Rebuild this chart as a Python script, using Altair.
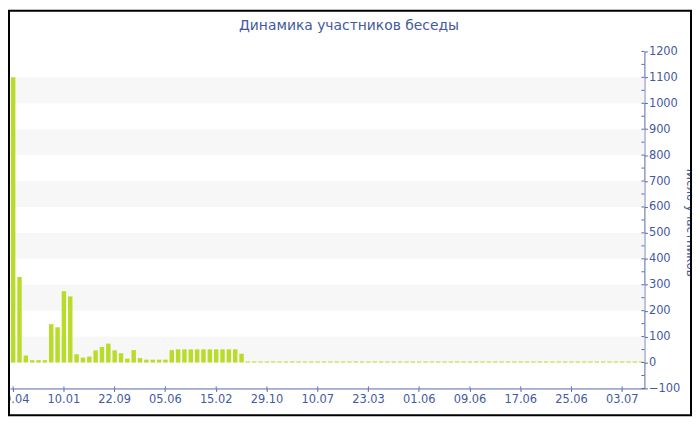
import altair as alt
import pandas as pd

chart_title = "Динамика участников беседы"
y_title = "Число участников"

values = [
    1100, 330, 27, 9, 9, 9, 148, 136, 275, 255,
    32, 19, 23, 47, 60, 73, 47, 36, 15, 48,
    17, 11, 11, 11, 11, 48, 51, 51, 51, 51,
    51, 51, 51, 51, 51, 51, 34, 4, 4, 4,
    4, 4, 4, 4, 4, 4, 4, 4, 4, 4,
    4, 4, 4, 4, 4, 4, 4, 4, 4, 4,
    4, 4, 4, 4, 4, 4, 4, 4, 4, 4,
    4, 4, 4, 4, 4, 4, 4, 4, 4, 4,
    4, 4, 4, 4, 4, 4, 4, 4, 4, 4,
    4, 4, 4, 4, 4, 4, 4, 4, 4, 4,
]
tick_labels = ["29.04", "10.01", "22.09", "05.06", "15.02", "29.10", "10.07",
               "23.03", "01.06", "09.06", "17.06", "25.06", "03.07"]
band_lo = [0, 200, 400, 600, 800, 1000]
band_hi = [100, 300, 500, 700, 900, 1100]
y_ticks = list(range(-100, 1201, 100))
minor_ticks = list(range(-100, 1201, 50))

W, H = 640, 340
PL, PT, PR, PB = 2, 42, 48, 28

TEXT = "#4459a0"
AXIS = "#5367a8"
BAR = "#b9dc2a"
BAND = "#f7f7f7"
FONT = "DejaVu Sans"

df = pd.DataFrame({"i": list(range(len(values))), "v": values})
step = 8
tick_idx = [k * step for k in range(len(tick_labels))]
label_expr = "[" + ",".join(f"'{s}'" for s in tick_labels) + f"][datum.value / {step}]"

yscale = alt.Scale(domain=[-100, 1200], nice=False, zero=False)
xscale = alt.Scale(paddingInner=0.3, paddingOuter=0.15)

x_axis = alt.Axis(values=tick_idx, labelExpr=label_expr, labelAngle=0,
                  tickSize=3, labelPadding=2, title=None)
y_axis = alt.Axis(orient="right", values=y_ticks, format="d", title=y_title,
                  labelOverlap=False, labelFlush=False,
                  tickSize=3, labelPadding=1,
                  titleAngle=90, titleX=42, titleY=H / 2,
                  titleAlign="center", titleBaseline="alphabetic")

bands = alt.Chart(pd.DataFrame({"lo": band_lo, "hi": band_hi})).mark_rect(color=BAND).encode(
    x=alt.value(0), x2=alt.value(W),
    y=alt.Y("lo:Q", scale=yscale, axis=y_axis), y2="hi:Q",
)

bars = alt.Chart(df).mark_bar(color=BAR).encode(
    x=alt.X("i:O", scale=xscale, axis=x_axis),
    y=alt.Y("v:Q", scale=yscale, axis=y_axis),
    y2=alt.datum(0),
)

minor = alt.Chart(pd.DataFrame({"m": minor_ticks})).mark_rule(color=AXIS).encode(
    y=alt.Y("m:Q", scale=yscale, axis=y_axis),
    x=alt.value(W - 3), x2=alt.value(W),
)

xticks_in = alt.Chart(pd.DataFrame({"i": tick_idx})).mark_rule(color=AXIS).encode(
    x=alt.X("i:O", scale=xscale, axis=x_axis, bandPosition=0.5),
    y=alt.value(H - 2), y2=alt.value(H),
)

border = alt.Chart(pd.DataFrame({"a": [0]})).mark_rect(
    fillOpacity=0, stroke="black", strokeWidth=2
).encode(
    x=alt.value(-PL + 1), x2=alt.value(W + PR - 1),
    y=alt.value(-PT + 1), y2=alt.value(H + PB - 1),
)

chart = alt.layer(bands, bars, minor, xticks_in, border).properties(
    width=W, height=H,
    padding={"left": PL, "top": PT, "right": PR, "bottom": PB},
    autosize=alt.AutoSizeParams(type="none"),
    title=alt.TitleParams(chart_title, fontSize=14, fontWeight="normal",
                          color=TEXT, anchor="middle", dx=22, offset=-34,
                          baseline="alphabetic"),
).configure(
    background="white",
    font=FONT,
    view=alt.ViewConfig(stroke=None),
    axis=alt.AxisConfig(grid=False, domainColor=AXIS, tickColor=AXIS,
                        labelColor=TEXT, labelFontSize=11.5, labelOverlap=False,
                        titleColor=TEXT, titleFontSize=12, titleFontWeight="normal"),
)

chart.save("out.html", embed_options={"renderer": "svg", "actions": False})
